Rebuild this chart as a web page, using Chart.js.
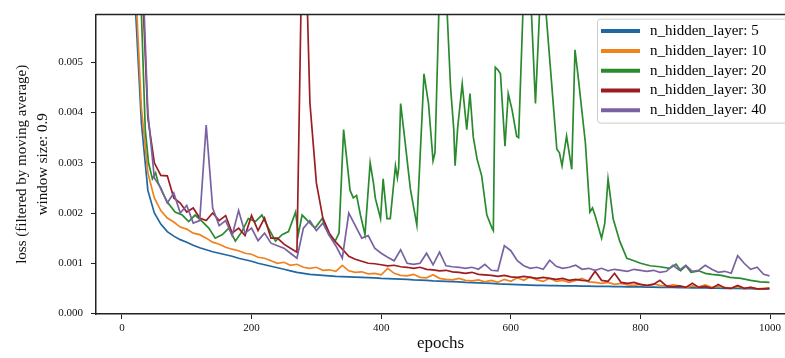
<!DOCTYPE html>
<html>
<head>
<meta charset="utf-8">
<script src="https://cdn.jsdelivr.net/npm/chart.js@4.4.1/dist/chart.umd.min.js"></script>
<style>
    html, body { margin: 0; padding: 0; background: #fff; }
    #chart { display: block; }
</style>
</head>
<body>
<canvas id="chart" width="785" height="358"></canvas>
<script>
// === DATA (loss values in units of 1e-3) ===
const EPOCHS = Array.from({ length: 100 }, (_, i) => i * 10).concat(999);

const loss5 = [40, 12, 6.3, 3.8, 2.45, 2.0, 1.78, 1.63, 1.54, 1.47,
    1.42, 1.36, 1.31, 1.27, 1.23, 1.20, 1.17, 1.14, 1.10, 1.07,
    1.04, 1.00, 0.97, 0.94, 0.91, 0.88, 0.85, 0.82, 0.80, 0.78,
    0.77, 0.76, 0.75, 0.74, 0.735, 0.73, 0.725, 0.72, 0.715, 0.71,
    0.70, 0.695, 0.69, 0.685, 0.68, 0.67, 0.665, 0.66, 0.65, 0.645,
    0.64, 0.635, 0.63, 0.62, 0.615, 0.61, 0.605, 0.60, 0.59, 0.585,
    0.58, 0.575, 0.57, 0.565, 0.56, 0.56, 0.555, 0.555, 0.55, 0.55,
    0.55, 0.545, 0.545, 0.54, 0.54, 0.54, 0.535, 0.535, 0.53, 0.53,
    0.53, 0.525, 0.525, 0.52, 0.52, 0.52, 0.515, 0.515, 0.51, 0.51,
    0.51, 0.505, 0.505, 0.50, 0.50, 0.50, 0.495, 0.495, 0.49, 0.49, 0.49];

const loss10 = [40, 13, 6.8, 4.1, 2.8, 2.3, 2.05, 1.9, 1.82, 1.72,
    1.68, 1.6, 1.57, 1.5, 1.42, 1.38, 1.32, 1.28, 1.25, 1.2,
    1.18, 1.12, 1.1, 1.05, 1.0, 1.02, 0.96, 0.98, 0.92, 0.9,
    0.92, 0.86, 0.87, 0.84, 0.96, 0.85, 0.82, 0.83, 0.79, 0.80,
    0.77, 0.90, 0.80, 0.76, 0.75, 0.78, 0.72, 0.71, 0.77, 0.70,
    0.68, 0.67, 0.70, 0.66, 0.65, 0.67, 0.63, 0.66, 0.62, 0.68,
    0.64, 0.71, 0.66, 0.73, 0.67, 0.64, 0.70, 0.64, 0.66, 0.62,
    0.66, 0.70, 0.63, 0.62, 0.60, 0.62, 0.58, 0.60, 0.57, 0.56,
    0.58, 0.55, 0.59, 0.56, 0.54, 0.57, 0.55, 0.52, 0.55, 0.53,
    0.57, 0.52, 0.55, 0.52, 0.50, 0.54, 0.50, 0.52, 0.49, 0.50, 0.51];

const loss30 = [60, 22, 11, 7.0, 3.9, 3.0, 2.75, 2.74, 2.3, 2.2,
    2.02, 2.1, 1.9, 1.85, 2.0, 1.85, 1.95, 1.6, 1.7, 1.55,
    1.95, 1.65, 1.9, 1.5, 1.5, 1.38, 1.3, 1.22, 9.0, 4.2,
    2.6, 1.9, 1.6, 1.42, 1.28, 1.14, 1.08, 1.04, 1.0, 0.99,
    0.97, 0.95, 0.96, 0.93, 0.92, 0.90, 0.92, 0.88, 0.87, 0.85,
    0.86, 0.83, 0.82, 0.80, 0.82, 0.78, 0.77, 0.76, 0.74, 0.76,
    0.73, 0.72, 0.74, 0.72, 0.70, 0.72, 0.70, 0.68, 0.70, 0.66,
    0.68, 0.66, 0.65, 0.84, 0.66, 0.64, 0.80, 0.62, 0.60, 0.62,
    0.58, 0.56, 0.58, 0.66, 0.55, 0.53, 0.55, 0.52, 0.60, 0.52,
    0.54, 0.50, 0.58, 0.51, 0.50, 0.56, 0.50, 0.52, 0.49, 0.49, 0.50];

const loss40 = [60, 25, 11, 7.5, 4.0, 2.7, 2.5, 2.2, 2.4, 2.0,
    2.15, 1.8, 1.85, 3.75, 2.1, 1.75, 1.85, 1.55, 2.05, 1.6,
    1.7, 1.45, 1.6, 1.4, 1.35, 1.3, 1.2, 1.1, 1.7, 1.85,
    1.65, 1.8, 1.55, 1.35, 1.1, 2.0, 1.75, 1.5, 1.55, 1.3,
    1.2, 1.12, 1.05, 1.27, 1.0, 0.98, 1.0, 1.2, 0.97, 1.22,
    0.95, 0.93, 0.92, 0.9, 0.92, 0.88, 0.98, 0.86, 0.85, 1.35,
    1.25, 1.05, 0.95, 0.9, 0.92, 0.88, 1.06, 0.94, 0.9, 0.92,
    0.96, 0.88, 0.9, 0.86, 0.9, 0.85, 0.88, 0.86, 0.84, 0.88,
    0.86, 0.84, 0.86, 0.82, 0.84, 0.96, 0.86, 0.96, 0.84, 0.86,
    0.96, 0.88, 0.82, 0.84, 0.80, 1.15, 1.0, 0.88, 0.92, 0.78, 0.75];

// n_hidden_layer 20 is very spiky, so it keeps its own epoch list
const EPOCHS_20 = [0, 10, 20, 30, 36, 41, 47, 52, 56, 62, 70, 82, 93, 103, 113, 124, 134, 144,
    155, 165, 175, 185, 195, 206, 216, 226, 237, 247, 257, 268, 272, 278, 288, 298, 309, 319,
    329, 335, 342, 352, 357, 362, 368, 375, 383, 388, 391, 399, 403, 409, 414, 422, 425, 427,
    430, 437, 445, 455, 463, 466, 473, 480, 483, 490, 497, 501, 507, 512, 514, 518, 525, 532,
    537, 542, 548, 555, 563, 571, 573, 576, 580, 584, 591, 596, 602, 609, 612, 620, 630, 638,
    645, 653, 661, 671, 675, 679, 686, 694, 699, 704, 715, 722, 726, 730, 740, 745, 750, 758,
    768, 779, 790, 800, 815, 830, 845, 855, 862, 870, 878, 890, 900, 910, 925, 938, 955, 970,
    985, 999];
const loss20 = [60, 22, 10, 6.0, 3.66, 3.0, 2.68, 2.8, 2.6, 2.42, 2.22, 2.02, 1.96, 1.83, 1.96, 1.83, 1.7, 1.5,
    1.57, 1.7, 1.44, 1.63, 1.89, 1.83, 1.96, 1.7, 1.44, 1.57, 1.63, 2.02, 1.57, 1.96, 1.83, 1.7, 1.89, 1.57,
    1.44, 1.6, 3.66, 2.45, 2.3, 2.35, 1.96, 1.57, 3.0, 2.6, 2.29, 1.89, 2.68, 1.89, 1.89, 2.94, 2.7, 2.9,
    4.18, 3.4, 2.48, 1.76, 3.92, 4.77, 4.18, 3.04, 3.2, 6.5, 6.5, 6.2, 4.51, 3.66, 2.94, 3.7, 4.57, 3.66,
    4.38, 3.52, 3.07, 2.74, 1.96, 1.7, 1.65, 4.9, 4.85, 4.77, 3.33, 4.38, 4.05, 3.53, 3.5, 6.5, 6.5, 4.18,
    6.2, 6.2, 4.9, 3.27, 3.2, 2.94, 3.53, 2.87, 5.25, 4.7, 3.4, 2.02, 2.1, 1.95, 1.5, 1.8, 2.68, 1.88,
    1.44, 1.1, 1.05, 1.0, 0.95, 0.93, 0.9, 0.98, 0.85, 0.95, 0.82, 0.85, 0.8, 0.78, 0.76, 0.72, 0.7, 0.66,
    0.63, 0.62];

const LABELS = ["n_hidden_layer: 5", "n_hidden_layer: 10", "n_hidden_layer: 20", "n_hidden_layer: 30", "n_hidden_layer: 40"];
const COLORS = ["#1f67a3", "#f0821e", "#2a8a2e", "#9c1c22", "#7a62a2"];
const X_TICKS = [0, 200, 400, 600, 800, 1000];
const Y_TICKS = [0, 0.001, 0.002, 0.003, 0.004, 0.005];

const SERIF = "'Liberation Serif', 'DejaVu Serif', serif";

function toPoints(xs, ys) {
    return ys.map((v, i) => ({ x: xs[i], y: v / 1000 }));
}

const seriesData = [
    toPoints(EPOCHS, loss5),
    toPoints(EPOCHS, loss10),
    toPoints(EPOCHS_20, loss20),
    toPoints(EPOCHS, loss30),
    toPoints(EPOCHS, loss40)
];

// === PLUGINS: top frame line + boxed legend inside the plot ===
const frameTop = {
    id: "frameTop",
    afterDatasetsDraw(chart) {
        const { ctx, chartArea } = chart;
        ctx.save();
        ctx.strokeStyle = "#222";
        ctx.lineWidth = 1.5;
        ctx.beginPath();
        ctx.moveTo(chartArea.left, chartArea.top);
        ctx.lineTo(chartArea.right, chartArea.top);
        ctx.stroke();
        ctx.restore();
    }
};

const boxLegend = {
    id: "boxLegend",
    afterDraw(chart) {
        const { ctx, chartArea } = chart;
        const left = chartArea.right - 188;
        const top = chartArea.top + 4;
        const w = 196, h = 104, r = 3;
        ctx.save();
        ctx.fillStyle = "rgba(255,255,255,0.85)";
        ctx.strokeStyle = "#cccccc";
        ctx.lineWidth = 1;
        ctx.beginPath();
        ctx.roundRect(left + 0.5, top + 0.5, w, h, r);
        ctx.fill();
        ctx.stroke();

        ctx.font = "15px " + SERIF;
        ctx.textBaseline = "middle";
        LABELS.forEach((label, i) => {
            const y = top + 12.5 + i * 19.8;
            ctx.strokeStyle = COLORS[i];
            ctx.lineWidth = 4;
            ctx.beginPath();
            ctx.moveTo(left + 4, y);
            ctx.lineTo(left + 43, y);
            ctx.stroke();
            ctx.fillStyle = "#000";
            ctx.fillText(label, left + 53, y);
        });
        ctx.restore();
    }
};

// === CHART ===
new Chart(document.getElementById("chart"), {
    type: "line",
    data: {
        datasets: LABELS.map((label, i) => ({
            label: label,
            data: seriesData[i],
            borderColor: COLORS[i],
            backgroundColor: COLORS[i],
            borderWidth: 1.7,
            pointRadius: 0,
            tension: 0,
            fill: false,
            order: LABELS.length - 1 - i
        }))
    },
    options: {
        responsive: false,
        animation: false,
        devicePixelRatio: 1,
        layout: { padding: { top: 10, right: 0, bottom: 0, left: 0 } },
        plugins: {
            legend: { display: false },
            tooltip: { enabled: false }
        },
        scales: {
            x: {
                type: "linear",
                min: -40,
                max: 1023,
                afterBuildTicks: s => { s.ticks = X_TICKS.map(v => ({ value: v })); },
                afterFit: s => { s.height = 44; },
                ticks: {
                    font: { family: SERIF, size: 11 },
                    color: "#111",
                    padding: 3,
                    maxRotation: 0,
                    autoSkip: false,
                    callback: v => String(v)
                },
                grid: { drawOnChartArea: false, color: "#222", tickLength: 5 },
                border: { color: "#222", width: 1.5 },
                title: {
                    display: true,
                    text: "epochs",
                    color: "#111",
                    font: { family: SERIF, size: 17 },
                    padding: { top: 0, bottom: 4 }
                }
            },
            y: {
                min: -0.00001,
                max: 0.00595,
                afterBuildTicks: s => { s.ticks = Y_TICKS.map(v => ({ value: v })); },
                afterFit: s => { s.width = 96; },
                ticks: {
                    font: { family: SERIF, size: 11 },
                    color: "#111",
                    padding: 8,
                    callback: v => Number(v).toFixed(3)
                },
                grid: { drawOnChartArea: false, color: "#222", tickLength: 5 },
                border: { color: "#222", width: 1.5 },
                title: {
                    display: true,
                    text: ["loss (filtered by moving average)", "window size: 0.9"],
                    color: "#111",
                    font: { family: SERIF, size: 15, lineHeight: 1.4 },
                    padding: { top: 12, bottom: 0 }
                }
            }
        }
    },
    plugins: [frameTop, boxLegend]
});
</script>
</body>
</html>
